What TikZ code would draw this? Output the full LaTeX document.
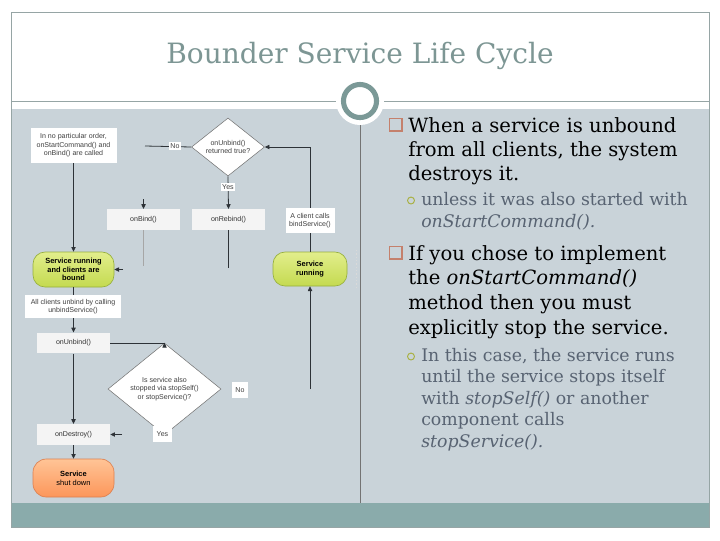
\documentclass[tikz,border=0pt]{standalone}
\usepackage{fontspec}
\setmainfont{DejaVu Serif}
\newfontfamily\diagfont{Liberation Sans}
\usetikzlibrary{shapes.geometric,arrows.meta}
\definecolor{panelbg}{RGB}{201,211,217}
\definecolor{bandcol}{RGB}{138,171,171}
\definecolor{titlecol}{RGB}{125,150,148}
\definecolor{framecol}{RGB}{150,165,165}
\definecolor{ringcol}{RGB}{123,153,151}
\definecolor{subcol}{RGB}{88,99,114}
\definecolor{sqcol}{RGB}{196,128,108}
\definecolor{circcol}{RGB}{168,176,64}
\definecolor{fnfill}{RGB}{244,244,244}
\definecolor{linecol}{RGB}{45,50,55}
\definecolor{greentop}{RGB}{226,238,140}
\definecolor{greenbot}{RGB}{196,218,80}
\definecolor{greenedge}{RGB}{150,175,60}
\definecolor{orangetop}{RGB}{255,196,150}
\definecolor{orangebot}{RGB}{252,150,90}
\definecolor{orangeedge}{RGB}{220,128,80}
\begin{document}
\begin{tikzpicture}[x=0.75pt,y=-0.75pt,
  dfont/.style={font=\diagfont\fontsize{5.3}{6.3}\selectfont},
  lbl/.style={dfont, fill=white, inner sep=1.2pt, text=black!75, align=center},
  fnbox/.style={dfont, fill=fnfill, text=black!80, minimum width=54.75pt, minimum height=15.5pt, inner sep=0pt},
  dia/.style={dfont, diamond, draw=black!55, fill=white, line width=0.4pt, inner sep=0pt, align=center, text=black!75},
  greenbox/.style={font=\diagfont\bfseries\fontsize{5.6}{6.6}\selectfont, rounded corners=9pt, draw=greenedge, line width=0.5pt, top color=greentop, bottom color=greenbot, align=center, inner sep=0pt},
  orangebox/.style={font=\diagfont\fontsize{5.6}{6.6}\selectfont, rounded corners=10pt, draw=orangeedge, line width=0.5pt, top color=orangetop, bottom color=orangebot, align=center, inner sep=0pt},
  ln/.style={draw=linecol, line width=0.6pt},
  arr/.style={ln, -{Triangle[length=3.5pt,width=3.2pt]}},
  maintext/.style={anchor=base west, inner sep=0pt, font=\fontsize{14.7}{17}\selectfont, text=black},
  subtext/.style={anchor=base west, inner sep=0pt, font=\fontsize{13}{15}\selectfont, text=subcol},
  sqbullet/.style={draw=sqcol, line width=1.3pt},
  cbullet/.style={draw=circcol, line width=0.7pt}
]
\useasboundingbox (0,0) rectangle (720,540);
\fill[white] (0,0) rectangle (720,540);
% panels
\fill[panelbg] (11,109) rectangle (709,503);
\fill[bandcol] (11,503) rectangle (709,527);
\draw[framecol, line width=0.6pt] (11,12) rectangle (709,527);
\draw[framecol, line width=0.6pt] (11,101) -- (709,101);
% title
\node[font=\fontsize{21}{25}\selectfont, text=titlecol] (title) at (360,56) {Bounder Service Life Cycle};
% divider
\draw[black!55, line width=0.5pt] (360,120) -- (360,503);
\draw[white!70!gray, line width=0.4pt, dash pattern=on 1pt off 1.5pt] (356,250) -- (356,290);
% circle ornament
\fill[white] (360,101) circle[radius=18pt];
\draw[ringcol, line width=3.8pt] (360,101) circle[radius=12.4pt];

% ---------- flowchart ----------
\node[lbl, minimum width=64.5pt, minimum height=26pt, inner sep=0pt] (start) at (73.5,145.5) {In no particular order,\\onStartCommand() and\\onBind() are called};
\node[dia, minimum width=54.75pt, minimum height=42pt] (d1) at (228,147) {onUnbind()\\returned true?};
\node[fnbox] (bind) at (143.5,219.5) {onBind()};
\node[fnbox] (rebind) at (228.5,219.5) {onRebind()};
\node[greenbox, minimum width=55.5pt, minimum height=25.5pt] (running) at (310,269) {Service\\running};
\node[greenbox, minimum width=60.75pt, minimum height=26.25pt] (bound) at (73.5,269.5) {Service running\\and clients are\\bound};
\node[fnbox] (unbind) at (73.5,343) {onUnbind()};
\node[dia, minimum width=84.75pt, minimum height=47.25pt] (d2) at (164.5,389) {Is service also\\stopped via stopSelf()\\or stopService()?};
\node[fnbox] (destroy) at (73.5,434.5) {onDestroy()};
\node[orangebox, minimum width=60.75pt, minimum height=28.5pt] (shut) at (73.5,478) {\textbf{Service}\\shut down};

\coordinate (nofree) at (145,146);
\coordinate (bindin) at (143.5,199);
\coordinate (bindout) at (143.5,266);
\coordinate (rebindout) at (228.5,268);
\coordinate (runin) at (310,389);
\coordinate (boundin) at (123,269.5);
\coordinate (destroyin) at (122,434.5);

\draw[arr] (start.south) -- (bound.north);
\draw[ln] (nofree) -- (d1.west);
\draw[arr] (d1.south) -- (rebind.north);
\draw[arr] (bindin) -- (bind.north);
\draw[draw=black!35, line width=0.5pt] (bind.south) -- (bindout);
\draw[ln] (rebind.south) -- (rebindout);
\draw[arr] (running.north) |- (d1.east);
\draw[arr] (runin) -- (running.south);
\draw[arr] (boundin) -- (bound.east);
\draw[arr] (bound.south) -- (unbind.north);
\draw[arr] (unbind.east) -| (d2.north);
\draw[arr] (unbind.south) -- (destroy.north);
\draw[arr] (destroyin) -- (destroy.east);
\draw[arr] (destroy.south) -- (shut.north);

\node[lbl] (no1) at (175,146) {No};
\node[lbl] (yes1) at (228,187) {Yes};
\node[lbl, minimum width=36.75pt, minimum height=18.75pt, inner sep=0pt] (client) at (310,220.5) {A client calls\\bindService()};
\node[lbl, minimum width=72pt, minimum height=17.25pt, inner sep=0pt] (unbindlbl) at (73,306.5) {All clients unbind by calling\\unbindService()};
\node[lbl, minimum width=12pt, minimum height=12pt, inner sep=0pt] (no2) at (240,390) {No};
\node[lbl, minimum width=14pt, minimum height=12pt, inner sep=0pt] (yes2) at (162.5,434) {Yes};

% ---------- right text ----------
\draw[sqbullet] (389.5,118.5) rectangle (402,131);
\node[maintext] (t1) at (408,132) {When a service is unbound};
\node[maintext] (t2) at (408,156) {from all clients, the system};
\node[maintext] (t3) at (408,180) {destroys it.};
\draw[cbullet] (411,200.5) circle[radius=2.6pt];
\node[subtext] (s1) at (421,205) {unless it was also started with};
\node[subtext] (s2) at (421,227) {\textit{onStartCommand().}};
\draw[sqbullet] (389.5,246.5) rectangle (402,259);
\node[maintext] (t4) at (408,260) {If you chose to implement};
\node[maintext] (t5) at (408,284) {the \textit{onStartCommand()}};
\node[maintext] (t6) at (408,309) {method then you must};
\node[maintext] (t7) at (408,334) {explicitly stop the service.};
\draw[cbullet] (411,356.5) circle[radius=2.6pt];
\node[subtext] (s3) at (421,361) {In this case, the service runs};
\node[subtext] (s4) at (421,382) {until the service stops itself};
\node[subtext] (s5) at (421,404) {with \textit{stopSelf()} or another};
\node[subtext] (s6) at (421,425) {component calls};
\node[subtext] (s7) at (421,447) {\textit{stopService().}};
\end{tikzpicture}
\end{document}
